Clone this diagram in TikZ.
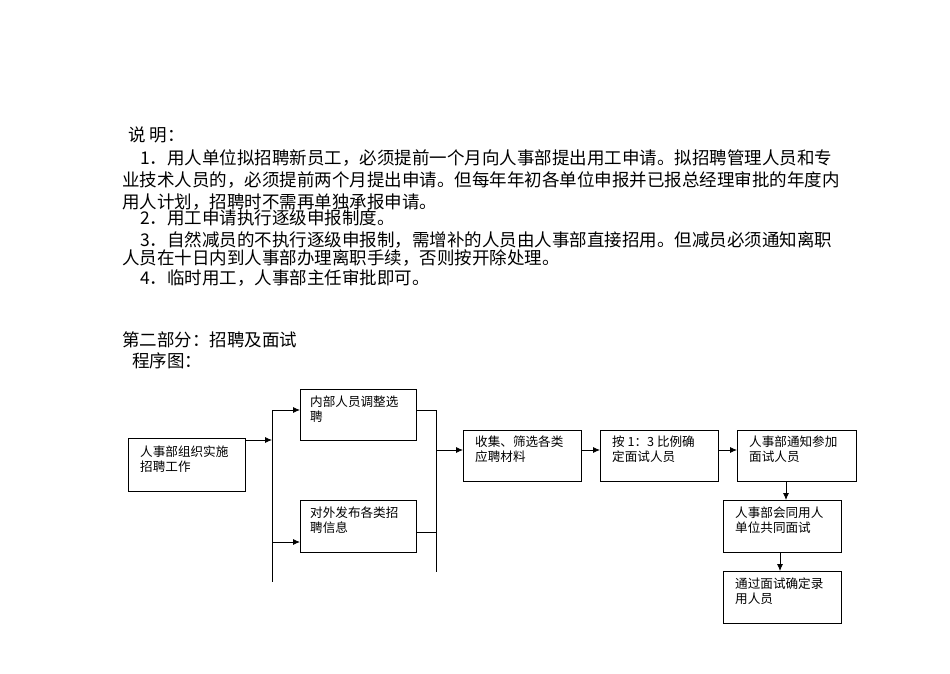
\documentclass[tikz,border=0pt]{standalone}
\usepackage{fontspec}
\newfontfamily\cjk{Noto Sans CJK SC}
\usetikzlibrary{arrows.meta}
\begin{document}
\begin{tikzpicture}[x=1pt,y=-1pt,
  box/.style={draw,line width=0.8pt},
  bt/.style={anchor=north west,inner sep=0pt,font=\cjk\fontsize{12.6}{15}\selectfont,align=left},
  body/.style={anchor=base west,inner sep=0pt,font=\cjk\fontsize{17.5}{20}\selectfont},
  ln/.style={line width=0.8pt},
  ar/.style={line width=0.8pt,-{Latex[length=7pt,width=6pt]}}]
\useasboundingbox (0,0) rectangle (950,673);
\node[body] (t0) at (128,141) {说 明：};
\node[body] (t1) at (140,164) {1．用人单位拟招聘新员工，必须提前一个月向人事部提出用工申请。拟招聘管理人员和专};
\node[body] (t2) at (122,186) {业技术人员的，必须提前两个月提出申请。但每年年初各单位申报并已报总经理审批的年度内};
\node[body] (t3) at (122,208) {用人计划，招聘时不需再单独承报申请。};
\node[body] (t4) at (140,224) {2．用工申请执行逐级申报制度。};
\node[body] (t5) at (140,246) {3．自然减员的不执行逐级申报制，需增补的人员由人事部直接招用。但减员必须通知离职};
\node[body] (t6) at (122,264) {人员在十日内到人事部办理离职手续，否则按开除处理。};
\node[body] (t7) at (140,284) {4．临时用工，人事部主任审批即可。};
\node[body] (t8) at (122,346) {第二部分：招聘及面试};
\node[body] (t9) at (132,367) {程序图：};

\draw[box] (128,438) rectangle (245,491); \node[bt] (a) at (140,446) {人事部组织实施\\招聘工作};
\draw[box] (300,389) rectangle (416,440); \node[bt] (b) at (310,396) {内部人员调整选\\聘};
\draw[box] (300,500) rectangle (416,552); \node[bt] (c) at (310,507) {对外发布各类招\\聘信息};
\draw[box] (463,430) rectangle (581,481); \node[bt] (d) at (475,436) {收集、筛选各类\\应聘材料};
\draw[box] (600,430) rectangle (718,481); \node[bt] (e) at (612,436) {按 1：3 比例确\\定面试人员};
\draw[box] (737,430) rectangle (856,481); \node[bt] (f) at (749,436) {人事部通知参加\\面试人员};
\draw[box] (723,500) rectangle (841,552); \node[bt] (g) at (735,507) {人事部会同用人\\单位共同面试};
\draw[box] (723,571) rectangle (841,623); \node[bt] (h) at (735,578) {通过面试确定录\\用人员};

\coordinate (s1) at (272,440);
\draw[ar] (245,440) -- (s1);
\draw[ln] (272,410) -- (272,582);
\draw[ar] (272,410) -- (300,410);
\draw[ar] (272,542) -- (300,542);
\draw[ln] (416,410) -- (436,410);
\draw[ln] (416,532) -- (436,532);
\draw[ln] (436,410) -- (436,572);
\draw[ar] (436,450) -- (463,450);
\draw[ar] (581,450) -- (600,450);
\draw[ar] (718,450) -- (737,450);
\draw[ar] (786,481) -- (786,500);
\draw[ar] (780,552) -- (780,571);
\end{tikzpicture}
\end{document}
